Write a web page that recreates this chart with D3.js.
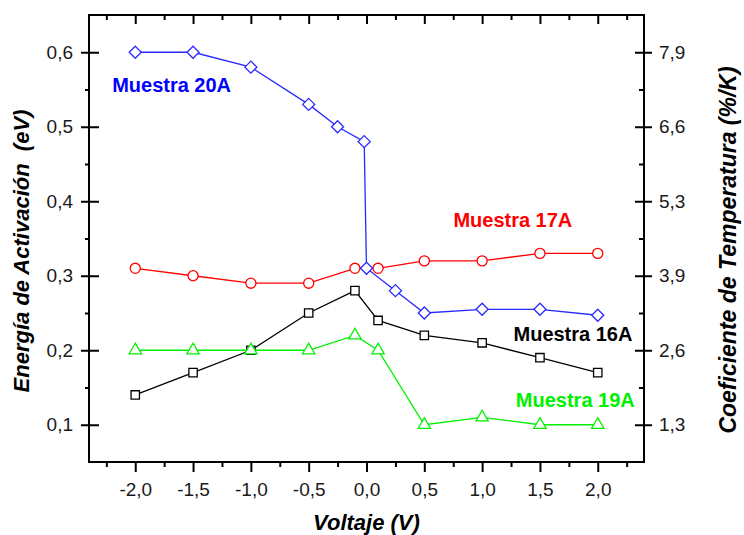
<!DOCTYPE html>
<html>
<head>
<meta charset="utf-8">
<script src="https://cdn.jsdelivr.net/npm/d3@7"></script>
<style>
    body { margin: 0; background: #fff; }
    text { font-family: "Liberation Sans", Arial, sans-serif; }
</style>
</head>
<body>
<div id="chart"></div>
<script>
// Datos
const voltaje20A = [-2.0, -1.5, -1.0, -0.5, -0.25, -0.02, 0.0, 0.25, 0.5, 1.0, 1.5, 2.0];
const energia20A = [0.60, 0.60, 0.58, 0.53, 0.50, 0.48, 0.31, 0.28, 0.25, 0.255, 0.255, 0.247];

const voltaje17A = [-2.0, -1.5, -1.0, -0.5, -0.1, 0.1, 0.5, 1.0, 1.5, 2.0];
const energia17A = [0.31, 0.30, 0.29, 0.29, 0.31, 0.31, 0.32, 0.32, 0.33, 0.33];

const voltaje16A = [-2.0, -1.5, -1.0, -0.5, -0.1, 0.1, 0.5, 1.0, 1.5, 2.0];
const energia16A = [0.14, 0.17, 0.20, 0.25, 0.28, 0.24, 0.22, 0.21, 0.19, 0.17];

const voltaje19A = [-2.0, -1.5, -1.0, -0.5, -0.1, 0.1, 0.5, 1.0, 1.5, 2.0];
const energia19A = [0.20, 0.20, 0.20, 0.20, 0.22, 0.20, 0.10, 0.11, 0.10, 0.10];

const ticksX = [-2.0, -1.5, -1.0, -0.5, 0.0, 0.5, 1.0, 1.5, 2.0];
const ticksY = [0.1, 0.2, 0.3, 0.4, 0.5, 0.6];
const etiquetasDerecha = ["1,3", "2,6", "3,9", "5,3", "6,6", "7,9"];

// 1. Dimensiones
const width = 744;
const height = 535;
const margin = {top: 15, right: 100, bottom: 73, left: 89};
const w = width - margin.left - margin.right;
const h = height - margin.top - margin.bottom;

const x = d3.scaleLinear().domain([-2.4, 2.4]).range([0, w]);
const y = d3.scaleLinear().domain([0.05, 0.65]).range([h, 0]);

const locale = d3.formatLocale({decimal: ",", thousands: ".", grouping: [3], currency: ["", ""], minus: "-"});
const fmt = locale.format(".1f");

const minX = d3.range(-2.25, 2.3, 0.5);
const minY = d3.range(0.15, 0.6, 0.1);

// 2. Canevas SVG
const svg = d3.select("#chart")
    .append("svg")
    .attr("width", width)
    .attr("height", height)
    .append("g")
    .attr("transform", `translate(${margin.left}, ${margin.top})`);

// 3. Ejes
function estilo(g) {
    g.select(".domain").remove();
    g.selectAll("line").attr("stroke", "#000").attr("stroke-width", 2);
    g.selectAll("text").style("font-size", "19px").attr("fill", "#1a1a1a");
}

// eje inferior
svg.append("g")
    .attr("transform", `translate(0, ${h})`)
    .call(d3.axisBottom(x).tickValues(ticksX).tickFormat(fmt).tickSize(10).tickPadding(11).tickSizeOuter(0))
    .call(estilo);
svg.append("g")
    .attr("transform", `translate(0, ${h})`)
    .call(d3.axisBottom(x).tickValues(minX).tickFormat("").tickSize(5).tickSizeOuter(0))
    .call(estilo);

// eje superior (ticks hacia dentro)
svg.append("g")
    .call(d3.axisTop(x).tickValues(ticksX).tickFormat("").tickSize(-9).tickSizeOuter(0))
    .call(estilo);
svg.append("g")
    .call(d3.axisTop(x).tickValues(minX).tickFormat("").tickSize(-5).tickSizeOuter(0))
    .call(estilo);

// eje izquierdo
const izq = svg.append("g")
    .call(d3.axisLeft(y).tickValues(ticksY).tickFormat(fmt).tickSize(8).tickPadding(8).tickSizeOuter(0))
    .call(estilo);
izq.selectAll(".tick").append("line").attr("x2", 10).attr("stroke", "#000").attr("stroke-width", 2);
svg.append("g")
    .call(d3.axisLeft(y).tickValues(minY).tickFormat("").tickSize(4).tickSizeOuter(0))
    .call(estilo);

// eje derecho
const der = svg.append("g")
    .attr("transform", `translate(${w}, 0)`)
    .call(d3.axisRight(y).tickValues(ticksY).tickFormat((d, i) => etiquetasDerecha[i]).tickSize(8).tickPadding(7).tickSizeOuter(0))
    .call(estilo);
der.selectAll(".tick").append("line").attr("x2", -9).attr("stroke", "#000").attr("stroke-width", 2);
svg.append("g")
    .attr("transform", `translate(${w}, 0)`)
    .call(d3.axisRight(y).tickValues(minY).tickFormat("").tickSize(-5).tickSizeOuter(0))
    .call(estilo);

// marco
svg.append("rect")
    .attr("width", w)
    .attr("height", h)
    .attr("fill", "none")
    .attr("stroke", "#000")
    .attr("stroke-width", 2);

// 4. Series
const series = [
    {xs: voltaje17A, ys: energia17A, color: "#ff0000", simbolo: d3.symbolCircle, tam: 80},
    {xs: voltaje16A, ys: energia16A, color: "#000000", simbolo: d3.symbolSquare, tam: 70},
    {xs: voltaje19A, ys: energia19A, color: "#00f000", simbolo: d3.symbolTriangle, tam: 65},
    {xs: voltaje20A, ys: energia20A, color: "#2a2aff", simbolo: d3.symbolDiamond2, tam: 92}
];

const linea = d3.line().x(d => x(d[0])).y(d => y(d[1]));

series.forEach(s => {
    const pts = s.xs.map((v, i) => [v, s.ys[i]]);
    svg.append("path")
        .datum(pts)
        .attr("d", linea)
        .attr("fill", "none")
        .attr("stroke", s.color)
        .attr("stroke-width", 1.3);

    svg.selectAll(null)
        .data(pts)
        .enter()
        .append("path")
        .attr("transform", d => `translate(${x(d[0])}, ${y(d[1])})`)
        .attr("d", d3.symbol().type(s.simbolo).size(s.tam))
        .attr("fill", "#fff")
        .attr("stroke", s.color)
        .attr("stroke-width", 1.3);
});

// 5. Etiquetas de las muestras
const etiquetas = [
    {texto: "Muestra 20A", vx: -2.2, vy: 0.546, ancla: "start", color: "#0000ff"},
    {texto: "Muestra 17A", vx: 1.78, vy: 0.365, ancla: "end", color: "#ff0000"},
    {texto: "Muestra 16A", vx: 2.3, vy: 0.2125, ancla: "end", color: "#000000"},
    {texto: "Muestra 19A", vx: 2.32, vy: 0.124, ancla: "end", color: "#00f000"}
];
svg.selectAll(".etiqueta")
    .data(etiquetas)
    .enter()
    .append("text")
    .attr("x", d => x(d.vx))
    .attr("y", d => y(d.vy))
    .attr("text-anchor", d => d.ancla)
    .attr("fill", d => d.color)
    .style("font-size", "20px")
    .style("font-weight", "bold")
    .text(d => d.texto);

// 6. Titulos de los ejes
svg.append("text")
    .attr("x", w / 2)
    .attr("y", h + 68)
    .attr("text-anchor", "middle")
    .style("font-size", "22px")
    .style("font-weight", "bold")
    .style("font-style", "italic")
    .text("Voltaje (V)");

svg.append("text")
    .attr("transform", `translate(${29 - margin.left}, ${251 - margin.top}) rotate(-90)`)
    .attr("text-anchor", "middle")
    .style("font-size", "22px")
    .style("font-weight", "bold")
    .style("font-style", "italic")
    .style("white-space", "pre")
    .text("Energía de Activación  (eV)");

svg.append("text")
    .attr("transform", `translate(${736 - margin.left}, ${250 - margin.top}) rotate(-90)`)
    .attr("text-anchor", "middle")
    .style("font-size", "23px")
    .style("font-weight", "bold")
    .style("font-style", "italic")
    .text("Coeficiente de Temperatura (%/K)");
</script>
</body>
</html>
